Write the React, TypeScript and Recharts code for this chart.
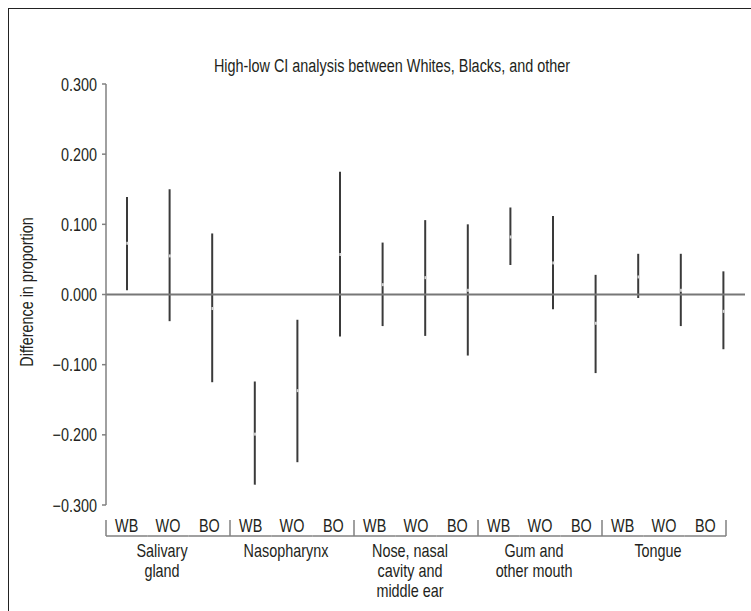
import { Bar, ComposedChart, Line, ReferenceLine, XAxis, YAxis } from "recharts";

const groups = ["Salivary gland", "Nasopharynx", "Nose, nasal cavity and middle ear", "Gum and other mouth", "Tongue"];
const groupLines = [["Salivary", "gland"], ["Nasopharynx"], ["Nose, nasal", "cavity and", "middle ear"], ["Gum and", "other mouth"], ["Tongue"]];
const pairs = ["WB", "WO", "BO"];

// per group: WB, WO, BO
const lowCI = [0.006, -0.038, -0.125, -0.271, -0.239, -0.06, -0.045, -0.059, -0.087, 0.042, -0.021, -0.112, -0.005, -0.045, -0.078];
const midDiff = [0.073, 0.055, -0.02, -0.199, -0.137, 0.057, 0.014, 0.024, 0.006, 0.082, 0.045, -0.041, 0.025, 0.006, -0.024];
const highCI = [0.139, 0.15, 0.087, -0.124, -0.036, 0.175, 0.074, 0.106, 0.1, 0.124, 0.112, 0.028, 0.058, 0.058, 0.033];

const yTicks = [-0.3, -0.2, -0.1, 0, 0.1, 0.2, 0.3];

const data = groups.flatMap((g, gi) =>
  pairs.map((p, pi) => {
    const i = gi * 3 + pi;
    return { key: `${g}-${p}`, pair: p, gi, pi, mid: midDiff[i], range: [lowCI[i], highCI[i]] };
  })
);

const W = 751;
const H = 611;
const PLOT_LEFT = 106;
const PLOT_RIGHT = 745;
const PLOT_TOP = 84;
const PLOT_BOTTOM = 505;
const LABEL_PAD_R = 19;
const LABEL_BAND = (PLOT_RIGHT - PLOT_LEFT - LABEL_PAD_R) / data.length;
const BRACKET_Y = 536;

// no condensed font installed, so squeeze Liberation Sans horizontally
const font = "'Liberation Sans', Arial, sans-serif";
const fs = 18;
const SQUEEZE = 0.8;
const textColor = "#231f20";
const axisColor = "#808080";

function CText({ x, y, anchor = "middle", children }: any) {
  return (
    <text
      transform={`translate(${x},${y}) scale(${SQUEEZE},1)`}
      textAnchor={anchor}
      dominantBaseline="central"
      fill={textColor}
      fontSize={fs}
      fontFamily={font}
    >
      {children}
    </text>
  );
}

function GroupTick(props: any) {
  const { x, index } = props;
  const item = data[index];
  if (!item) return null;
  const half = LABEL_BAND / 2;
  return (
    <g>
      <CText x={x} y={525}>{item.pair}</CText>
      <line x1={x - half} x2={x + half} y1={BRACKET_Y} y2={BRACKET_Y} stroke={axisColor} strokeWidth={1.5} />
      {item.pi === 0 && <line x1={x - half} x2={x - half} y1={BRACKET_Y - 16} y2={BRACKET_Y} stroke={axisColor} strokeWidth={1.5} />}
      {index === data.length - 1 && (
        <line x1={x + half} x2={x + half} y1={BRACKET_Y - 16} y2={BRACKET_Y} stroke={axisColor} strokeWidth={1.5} />
      )}
      {item.pi === 1 &&
        groupLines[item.gi].map((t, k) => (
          <CText key={k} x={x - 6} y={550 + k * 20}>{t}</CText>
        ))}
    </g>
  );
}

const fmt = (v: number) => (v < 0 ? "\u2212" + Math.abs(v).toFixed(3) : v.toFixed(3));

export default function App() {
  return (
    <div
      style={{
        position: "absolute",
        left: 0,
        top: 0,
        width: W,
        height: H,
        overflow: "hidden",
        background: "#fff",
        fontFamily: font,
      }}
    >
      <div
        style={{
          position: "absolute",
          left: 8,
          top: 8,
          width: W + 20,
          height: H + 20,
          borderLeft: "1.5px solid #222",
          borderTop: "1.5px solid #222",
        }}
      />
      <ComposedChart
        width={W}
        height={H}
        data={data}
        margin={{ top: PLOT_TOP, right: W - PLOT_RIGHT, bottom: H - PLOT_BOTTOM - 100, left: PLOT_LEFT - 60 }}
      >
        <XAxis dataKey="key" hide />
        <XAxis
          xAxisId="lbl"
          dataKey="key"
          height={100}
          padding={{ left: 0, right: LABEL_PAD_R }}
          axisLine={false}
          tickLine={false}
          interval={0}
          tick={(p: any) => <GroupTick {...p} />}
        />
        <YAxis
          width={60}
          domain={[-0.3, 0.3]}
          ticks={yTicks}
          tickSize={4}
          tickMargin={5}
          stroke={axisColor}
          axisLine={{ stroke: axisColor, strokeWidth: 1.5 }}
          tickLine={{ stroke: axisColor, strokeWidth: 1.5 }}
          tick={(p: any) => (
            <CText key={p.index} x={p.x} y={p.y} anchor="end">
              {fmt(p.payload.value)}
            </CText>
          )}
        />
        <ReferenceLine y={0} stroke="#777" strokeWidth={2} />
        <Bar dataKey="range" barSize={2} fill="#3a3a3a" isAnimationActive={false} />
        <Line
          dataKey="mid"
          stroke="none"
          isAnimationActive={false}
          activeDot={false}
          dot={(p: any) => <rect key={p.index} x={p.cx - 1} y={p.cy - 1.5} width={2} height={3} fill="#d4d4d4" />}
        />
      </ComposedChart>
      <div
        style={{
          position: "absolute",
          left: 392,
          top: 66,
          transform: `translate(-50%, -50%) scaleX(${SQUEEZE})`,
          whiteSpace: "nowrap",
          fontSize: fs,
          color: textColor,
        }}
      >
        High-low CI analysis between Whites, Blacks, and other
      </div>
      <div
        style={{
          position: "absolute",
          left: 27,
          top: 292,
          transform: `translate(-50%, -50%) rotate(-90deg) scaleX(${SQUEEZE})`,
          whiteSpace: "nowrap",
          fontSize: fs,
          color: textColor,
        }}
      >
        Difference in proportion
      </div>
    </div>
  );
}
